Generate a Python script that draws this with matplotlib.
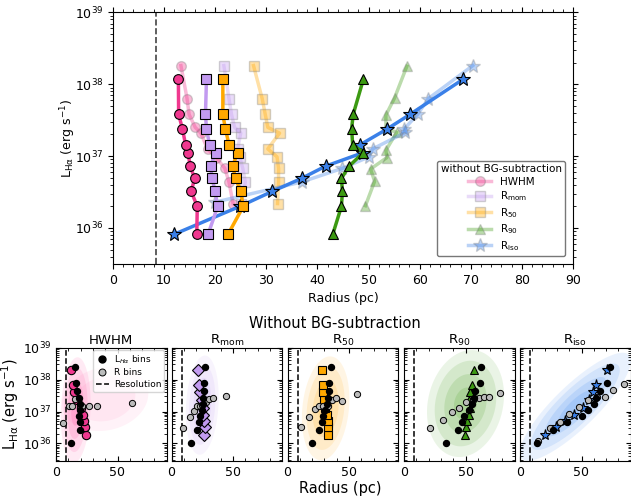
import numpy as np
import matplotlib.pyplot as plt
from matplotlib.lines import Line2D

# ---- top panel: log L bins (solid) and R bins (faded) ----
logL_lbins = [35.91, 36.30, 36.51, 36.69, 36.86, 37.05, 37.16, 37.38, 37.58, 38.07]
hwhm_lb = [16.4, 16.5, 15.3, 16.0, 15.1, 14.7, 14.2, 13.6, 12.85, 12.8]
rmom_lb = [18.6, 20.5, 20.0, 19.4, 19.1, 20.1, 18.9, 18.3, 18.1, 18.3]
r50_lb = [22.5, 25.5, 25.0, 24.0, 23.4, 24.4, 22.7, 22.0, 21.5, 21.5]
r90_lb = [43.0, 44.7, 44.9, 44.7, 46.2, 49.0, 46.9, 46.7, 47.0, 49.0]
riso_lb = [11.9, 24.8, 31.2, 36.9, 41.6, 49.0, 48.4, 53.7, 58.1, 68.5]

hwhm_rb_x = [23.5, 22.7, 21.9, 20.2, 18.5, 17.2, 16.1, 14.9, 14.5, 13.3]
hwhm_rb_y = [36.34, 36.64, 36.83, 36.98, 37.10, 37.32, 37.40, 37.58, 37.80, 38.26]
rmom_rb_x = [25.1, 25.9, 25.4, 24.8, 24.4, 25.0, 23.8, 23.2, 22.7, 21.7]
rmom_rb_y = [36.33, 36.64, 36.83, 36.99, 37.10, 37.32, 37.40, 37.58, 37.80, 38.26]
r50_rb_x = [32.2, 32.4, 32.4, 32.1, 30.3, 32.6, 30.3, 29.8, 29.2, 27.5]
r50_rb_y = [36.34, 36.64, 36.83, 36.99, 37.10, 37.32, 37.40, 37.58, 37.80, 38.26]
r90_rb_x = [49.4, 51.2, 50.4, 53.6, 53.4, 55.5, 53.4, 53.4, 55.1, 57.5]
r90_rb_y = [36.31, 36.65, 36.82, 36.98, 37.08, 37.33, 37.39, 37.57, 37.81, 38.25]
riso_rb_x = [20.0, 36.9, 44.9, 50.1, 50.8, 57.2, 57.0, 59.6, 61.7, 70.4]
riso_rb_y = [36.36, 36.64, 36.83, 36.99, 37.10, 37.33, 37.38, 37.58, 37.80, 38.26]

resolution = 8.5

# ---- bottom panels ----
logL_black = [36.01, 36.43, 36.66, 36.86, 37.05, 37.24, 37.42, 37.63, 37.88, 38.38]
logL_color = [36.27, 36.51, 36.69, 36.88, 37.12, 37.37, 37.61, 37.82, 38.29]

black_x = {
    'HWHM': [12.2, 19.6, 19.6, 19.0, 19.6, 19.6, 19.0, 16.8, 16.3, 15.5],
    'Rmom': [16.1, 20.7, 22.3, 23.4, 25.0, 25.5, 25.6, 26.7, 26.7, 27.5],
    'R50': [20.2, 26.0, 28.4, 29.2, 30.6, 32.0, 32.7, 33.8, 34.1, 35.2],
    'R90': [33.9, 43.8, 47.5, 48.9, 52.5, 55.2, 57.0, 57.9, 61.9, 62.5],
    'Riso': [13.6, 27.2, 38.3, 50.0, 55.4, 59.8, 62.0, 64.7, 70.6, 72.8],
}
color_x = {
    'HWHM': [24.0, 23.4, 22.8, 21.7, 20.1, 16.9, 14.7, 14.1, 12.5],
    'Rmom': [26.1, 26.9, 26.2, 25.8, 25.5, 24.8, 23.5, 22.0, 21.5],
    'R50': [32.7, 33.3, 32.7, 31.9, 30.6, 29.8, 29.2, 28.7, 27.8],
    'R90': [49.7, 50.5, 51.1, 52.5, 53.5, 53.2, 53.8, 55.2, 57.3],
    'Riso': [20.4, 29.0, 36.7, 43.5, 51.1, 56.5, 59.2, 61.9, 70.6],
}
grey_x = {
    'HWHM': [6.0, 10.6, 12.8, 15.6, 19.3, 21.5, 26.6, 33.7, 61.5],
    'Rmom': [9.3, 14.7, 17.9, 20.7, 23.1, 25.0, 28.0, 30.7, 33.4, 44.6],
    'R50': [10.7, 17.8, 22.2, 25.7, 29.2, 33.3, 36.0, 39.5, 44.1, 56.4],
    'R90': [20.9, 32.1, 38.9, 45.1, 50.5, 56.0, 60.6, 64.7, 69.3, 77.7],
    'Riso': [14.9, 24.5, 32.6, 40.2, 48.1, 55.2, 62.5, 69.3, 75.3, 84.2],
}
grey_y = {
    'HWHM': [36.65, 37.18, 37.18, 37.38, 37.18, 37.18, 37.18, 37.18, 37.28],
    'Rmom': [36.49, 36.83, 37.02, 37.18, 37.18, 37.22, 37.31, 37.40, 37.42, 37.49],
    'R50': [36.51, 36.83, 37.07, 37.18, 37.18, 37.17, 37.37, 37.42, 37.34, 37.56],
    'R90': [36.49, 36.72, 36.99, 37.10, 37.31, 37.37, 37.42, 37.44, 37.47, 37.58],
    'Riso': [36.07, 36.49, 36.66, 36.93, 37.13, 37.35, 37.47, 37.47, 37.68, 37.86],
}
# cloud outline estimates: centre (R, logL), major half-axis, minor half-axis
clouds = {
    'HWHM': [(16, 37.05, 1.5, 1.65, 12, 0.0), (40, 37.4, 35, 0.15, 0, 1.0)],
    'Rmom': [(25, 37.2, 3, 1.55, 13, -0.1)],
    'R50': [(31, 37.1, 7, 1.6, 18, -0.3)],
    'R90': [(50, 37.25, 14, 1.6, 28, -0.5)],
    'Riso': [(45, 37.15, 44, 1.6, -10, 0.55)],
}

names = ['HWHM', 'Rmom', 'R50', 'R90', 'Riso']
labels = ['HWHM', r'R$_{\rm mom}$', r'R$_{50}$', r'R$_{90}$', r'R$_{\rm iso}$']
colors = ['#f0388f', '#c29af0', '#ffa800', '#3c9a12', '#3a80e8']
cloud_colors = ['#ff5aa8', '#c7a6f5', '#ffb429', '#5aaa36', '#4f94f0']
markers = ['o', 's', 's', '^', '*']
small_markers = ['o', 'D', 's', '^', '*']

fig = plt.figure(figsize=(6.31, 4.97), dpi=100)

# ---------------- top panel ----------------
ax = fig.add_axes([0.179, 0.469, 0.729, 0.506])
faded = [(hwhm_rb_x, hwhm_rb_y), (rmom_rb_x, rmom_rb_y), (r50_rb_x, r50_rb_y),
         (r90_rb_x, r90_rb_y), (riso_rb_x, riso_rb_y)]
solid = [hwhm_lb, rmom_lb, r50_lb, r90_lb, riso_lb]
ms = [7, 7, 7, 7, 10]
handles = []
for i in range(5):
    fx, fy = faded[i]
    h, = ax.plot(fx, 10 ** np.array(fy), color=colors[i], marker=markers[i], ms=ms[i],
                 mec='grey', mew=1, lw=2.5, alpha=0.35, label=labels[i])
    handles.append(h)
for i in [4, 0, 1, 2, 3]:
    ax.plot(solid[i], 10 ** np.array(logL_lbins), color=colors[i], marker=markers[i],
            ms=ms[i], mec='black', mew=0.8, lw=2.5)
ax.axvline(resolution, color='#444444', ls='--', lw=1.2)
ax.set_yscale('log')
ax.set_xlim(0, 90)
ax.set_ylim(10 ** 35.5, 1e39)
ax.set_xticks(np.arange(0, 91, 10))
ax.set_xticks(np.arange(0, 91, 2), minor=True)
ax.tick_params(which='both', direction='out', top=True, right=True, labelsize=9)
ax.set_xlabel('Radius (pc)', fontsize=9)
ax.set_ylabel(r'L$_{\rm H\alpha}$ (erg s$^{-1}$)', fontsize=9)
ax.yaxis.set_label_coords(-0.077, 0.5)
leg = ax.legend(handles=handles, title='without BG-subtraction', loc='lower right',
                fontsize=7.5, title_fontsize=7.5, bbox_to_anchor=(0.995, 0.01),
                labelspacing=0.25, handlelength=2.2, borderpad=0.35)
leg.get_frame().set_edgecolor('#555555')

# ---------------- bottom panels ----------------
lefts = [56, 171.5, 287.5, 404, 520]
t = np.linspace(0, 2 * np.pi, 200)
for i, name in enumerate(names):
    a = fig.add_axes([lefts[i] / 631, 1 - 461 / 497, 110.7 / 631, 113.3 / 497])
    for k, (cx, cy, ux, uy, vx, vy) in enumerate(clouds[name]):
        levels = [(1.0, 0.12), (0.8, 0.15), (0.55, 0.18), (0.3, 0.2)] if k == 0 else [(1.0, 0.08), (0.7, 0.08)]
        for s, al in levels:
            px = cx + s * (ux * np.cos(t) + vx * np.sin(t))
            py = cy + s * (uy * np.cos(t) + vy * np.sin(t))
            a.fill(px, 10 ** py, color=cloud_colors[i], alpha=al, lw=0)
    a.axvline(resolution, color='black', ls='--', lw=1.1)
    a.plot(color_x[name], 10 ** np.array(logL_color), ls='none', marker=small_markers[i],
           color=colors[i], mec='black', mew=0.8, ms=8 if name == 'Riso' else 6)
    a.plot(grey_x[name], 10 ** np.array(grey_y[name]), ls='none', marker='o',
           color='#bbbbbb', mec='black', mew=0.7, ms=4.5)
    a.plot(black_x[name], 10 ** np.array(logL_black), ls='none', marker='o',
           color='black', ms=4.3)
    a.set_yscale('log')
    a.set_xlim(0, 90)
    a.set_ylim(10 ** 35.45, 1e39)
    a.set_xticks([0, 50])
    a.set_xticks(np.arange(0, 91, 10), minor=True)
    a.tick_params(which='both', direction='in', top=True, right=True, labelsize=9)
    if i > 0:
        a.tick_params(labelleft=False)
    a.set_title(labels[i], fontsize=9.5, pad=3)
    if i == 0:
        a.set_ylabel(r'L$_{\rm H\alpha}$ (erg s$^{-1}$)', fontsize=10.5)
        a.yaxis.set_label_coords(-0.32, 0.5)
        lh = [Line2D([], [], ls='none', marker='o', color='black', ms=5),
              Line2D([], [], ls='none', marker='o', color='#bbbbbb', mec='black', mew=0.7, ms=5),
              Line2D([], [], ls='--', color='black', lw=1.1)]
        a.legend(lh, [r'L$_{H\alpha}$ bins', 'R bins', 'Resolution'], loc='upper right',
                 fontsize=6.5, handlelength=1.5, borderpad=0.3, labelspacing=0.3,
                 handletextpad=0.5, borderaxespad=0.3)

fig.text(0.53, 1 - 323 / 497, 'Without BG-subtraction', ha='center', va='center', fontsize=10.5)
fig.text(0.54, 1 - 488 / 497, 'Radius (pc)', ha='center', va='center', fontsize=10.5)

fig.savefig('out.png', dpi=100)
